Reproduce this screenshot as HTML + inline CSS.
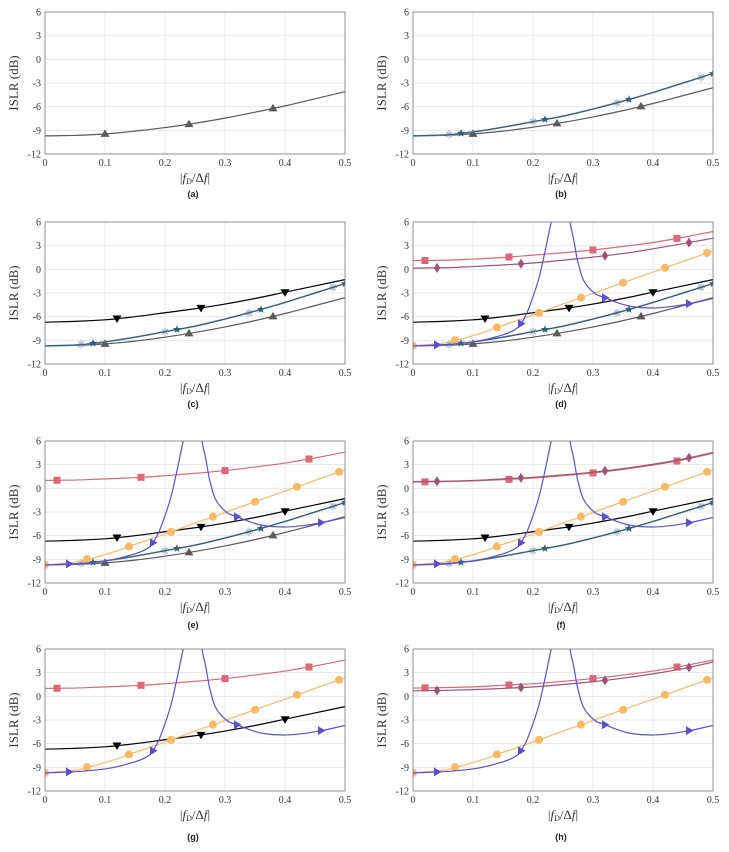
<!DOCTYPE html>
<html><head><meta charset="utf-8"><style>
html,body{margin:0;padding:0;background:#fff;}
svg{display:block;font-family:"Liberation Serif",serif;}
.cap{font-family:"Liberation Sans",sans-serif;font-weight:bold;font-size:9px;}
</style></head><body>
<svg id="fig" width="729" height="852" viewBox="0 0 729 852"></svg>
<script>
// ---- data ----
const xSamples = [0,0.05,0.1,0.15,0.2,0.25,0.3,0.35,0.4,0.45,0.5];
const grayA   = [-9.7,-9.65,-9.45,-9.1,-8.65,-8.1,-7.45,-6.7,-5.9,-5.0,-4.1];
const grayB   = [-9.7,-9.65,-9.45,-9.1,-8.6,-8.0,-7.3,-6.5,-5.6,-4.6,-3.6];
const teal    = [-9.7,-9.6,-9.2,-8.6,-7.9,-7.2,-6.3,-5.3,-4.2,-3.0,-1.8];
const black   = [-6.7,-6.6,-6.4,-6.0,-5.5,-5.0,-4.4,-3.7,-2.9,-2.1,-1.3];
const orange  = [-9.7,-9.35,-8.4,-7.1,-5.8,-4.4,-3.05,-1.7,-0.35,1.0,2.35];
const redD    = [1.1,1.15,1.3,1.5,1.8,2.1,2.45,2.9,3.4,4.05,4.8];
const mauveD  = [0.15,0.2,0.35,0.55,0.8,1.15,1.55,2.0,2.6,3.25,3.95];
const redE    = [1.0,1.05,1.2,1.35,1.6,1.9,2.25,2.7,3.2,3.85,4.6];
const redF    = [0.8,0.85,0.95,1.1,1.3,1.6,1.95,2.4,2.95,3.6,4.45];
const mauveF  = [0.85,0.9,1.0,1.2,1.4,1.7,2.05,2.5,3.05,3.7,4.55];
const redH    = [1.05,1.1,1.2,1.4,1.6,1.9,2.25,2.7,3.2,3.85,4.6];
const mauveH  = [0.7,0.75,0.85,1.0,1.2,1.5,1.85,2.3,2.85,3.5,4.35];
const purpleLX = [0,0.05,0.1,0.15,0.17,0.18,0.19,0.198,0.209,0.217,0.224,0.231,0.236];
const purpleLY = [-9.7,-9.55,-9.2,-8.3,-7.65,-6.9,-5.5,-3.9,-1.35,1.2,3.7,6.25,8.0];
const purpleRX = [0.257,0.261,0.268,0.274,0.284,0.295,0.306,0.32,0.34,0.36,0.38,0.4,0.45,0.5];
const purpleRY = [8.0,6.2,3.7,1.2,-1.35,-2.5,-3.2,-3.6,-4.2,-4.65,-4.85,-4.9,-4.5,-3.7];
const xTicks = [0,0.1,0.2,0.3,0.4,0.5];
const xTickLabels = ["0","0.1","0.2","0.3","0.4","0.5"];
const yTicks = [-12,-9,-6,-3,0,3,6];
const yTickLabels = ["-12","-9","-6","-3","0","3","6"];
const captions = ["(a)","(b)","(c)","(d)","(e)","(f)","(g)","(h)"];

const NS="http://www.w3.org/2000/svg";
const svg=document.getElementById('fig');
function mk(tag,attrs,parent){const e=document.createElementNS(NS,tag);for(const k in attrs)e.setAttribute(k,attrs[k]);(parent||svg).appendChild(e);return e;}

const lefts=[45,413], tops=[12,222,441,649], capY=[197,407,628,840];
const W=300,H=142;

const S={
 gray:{c:"#5a5a5a",m:"tri-up"}, teal:{c:"#2b5f7e",m:"star"}, ast:{c:"#9aa8b8",m:"asterisk"},
 black:{c:"#000",m:"tri-down"}, orange:{c:"#fdb863",m:"circle"}, red:{c:"#dd6677",m:"square"},
 mauve:{c:"#9c5475",m:"diamond"}, purple:{c:"#5a4fd4",m:"tri-right"}
};
const mx={gray:[0.1,0.24,0.38],teal:[0.08,0.22,0.36,0.5],ast:[0.06,0.2,0.34,0.48],black:[0.12,0.26,0.4],
 orange:[0,0.07,0.14,0.21,0.28,0.35,0.42,0.49],red:[0.02,0.16,0.3,0.44],mauve:[0.04,0.18,0.32,0.46],purple:[0.04,0.18,0.32,0.46]};

const panels=[
 [["gray",grayA]],
 [["gray",grayB],["ast",teal],["teal",teal]],
 [["gray",grayB],["ast",teal],["teal",teal],["black",black]],
 [["gray",grayB],["ast",teal],["teal",teal],["black",black],["orange",orange],["red",redD],["mauve",mauveD],["purple",null]],
 [["gray",grayB],["ast",teal],["teal",teal],["black",black],["orange",orange],["red",redE],["purple",null]],
 [["ast",teal],["teal",teal],["black",black],["orange",orange],["red",redF],["mauve",mauveF],["purple",null]],
 [["black",black],["orange",orange],["red",redE],["purple",null]],
 [["orange",orange],["red",redH],["mauve",mauveH],["purple",null]]
];

function interp(xs,ys,x){for(let i=0;i<xs.length-1;i++){if(x>=xs[i]&&x<=xs[i+1]){const t=(x-xs[i])/(xs[i+1]-xs[i]);return ys[i]+t*(ys[i+1]-ys[i]);}}return ys[ys.length-1];}
// monotone cubic (Fritsch-Carlson) in pixel space
function smooth(p){
 const n=p.length,d=[],m=[];
 for(let i=0;i<n-1;i++)d.push((p[i+1][1]-p[i][1])/(p[i+1][0]-p[i][0]));
 m[0]=d[0];m[n-1]=d[n-2];
 for(let i=1;i<n-1;i++){m[i]=(d[i-1]*d[i]<=0)?0:(2/(1/d[i-1]+1/d[i]));}
 let s="M"+p[0][0].toFixed(2)+","+p[0][1].toFixed(2);
 for(let i=0;i<n-1;i++){const h=p[i+1][0]-p[i][0];
  s+=` C${(p[i][0]+h/3).toFixed(2)},${(p[i][1]+m[i]*h/3).toFixed(2)} ${(p[i+1][0]-h/3).toFixed(2)},${(p[i+1][1]-m[i+1]*h/3).toFixed(2)} ${p[i+1][0].toFixed(2)},${p[i+1][1].toFixed(2)}`;}
 return s;}
function marker(g,type,x,y,c){
 let e;
 if(type==="circle")e=mk('circle',{cx:x,cy:y,r:4,fill:c},g);
 else if(type==="square")e=mk('rect',{x:x-3.5,y:y-3.5,width:7,height:7,fill:c},g);
 else if(type==="diamond")e=mk('polygon',{points:`${x},${y-5} ${x+3.3},${y} ${x},${y+5} ${x-3.3},${y}`,fill:c},g);
 else if(type==="tri-up")e=mk('polygon',{points:`${x},${y-4.5} ${x+4.5},${y+3} ${x-4.5},${y+3}`,fill:c},g);
 else if(type==="tri-down")e=mk('polygon',{points:`${x},${y+4.5} ${x+4.5},${y-3} ${x-4.5},${y-3}`,fill:c},g);
 else if(type==="tri-right")e=mk('polygon',{points:`${x+4.5},${y} ${x-3},${y-4.5} ${x-3},${y+4.5}`,fill:c},g);
 else if(type==="star"){let p=[];for(let k=0;k<10;k++){const r=k%2?1.8:4.3,a=-Math.PI/2+k*Math.PI/5;p.push((x+r*Math.cos(a)).toFixed(2)+","+(y+r*Math.sin(a)).toFixed(2));}e=mk('polygon',{points:p.join(" "),fill:c},g);}
 else if(type==="asterisk"){e=mk('path',{d:`M${x-4},${y}H${x+4}M${x},${y-4}V${y+4}M${x-2.8},${y-2.8}L${x+2.8},${y+2.8}M${x-2.8},${y+2.8}L${x+2.8},${y-2.8}`,stroke:c,"stroke-width":1,fill:"none"},g);}
 
 
}

panels.forEach((series,pi)=>{
 const L=lefts[pi%2],T=tops[Math.floor(pi/2)];
 const X=v=>L+v/0.5*W, Y=v=>T+(6-v)/18*H;
 const g=mk('g',{});
 mk('rect',{x:L,y:T,width:W,height:H,fill:"#fff"},g);
 const grid=mk('g',{stroke:"#e3e3e3","stroke-width":0.8},g);
 xTicks.forEach(t=>mk('line',{x1:X(t),x2:X(t),y1:T,y2:T+H},grid));
 yTicks.forEach(t=>mk('line',{x1:L,x2:L+W,y1:Y(t),y2:Y(t)},grid));
 const cid='clip'+pi;
 const cp=mk('clipPath',{id:cid},g);mk('rect',{x:L,y:T,width:W,height:H},cp);
 const plot=mk('g',{'clip-path':`url(#${cid})`,},g);
 series.forEach(([key,vals])=>{
  const st=S[key];
  const sg=mk('g',{},plot);
  if(key==="purple"){
   mk('path',{d:smooth(purpleLX.map((x,i)=>[X(x),Y(purpleLY[i])])),fill:"none",stroke:st.c,"stroke-width":1.2},sg);
   mk('path',{d:smooth(purpleRX.map((x,i)=>[X(x),Y(purpleRY[i])])),fill:"none",stroke:st.c,"stroke-width":1.2},sg);
   mx.purple.forEach(x=>{const y=x<0.25?interp(purpleLX,purpleLY,x):interp(purpleRX,purpleRY,x);marker(sg,st.m,X(x),Y(y),st.c);});
  } else {
   mk('path',{d:smooth(xSamples.map((x,i)=>[X(x),Y(vals[i])])),fill:"none",stroke:st.c,"stroke-width":key==="ast"?1.6:1.2},sg);
   mx[key].forEach(x=>marker(sg,st.m,X(x),Y(interp(xSamples,vals,x)),st.c));
  }
 });
 mk('rect',{x:L,y:T,width:W,height:H,fill:"none",stroke:"#7a7a7a","stroke-width":0.8,},g);
 const tk=mk('g',{'font-size':"10",fill:"#333","text-anchor":"middle"},g);
 xTicks.forEach((t,i)=>{const e=mk('text',{x:X(t),y:T+H+12},tk);e.textContent=xTickLabels[i];});
 const ty=mk('g',{'font-size':"10",fill:"#333","text-anchor":"end"},g);
 yTicks.forEach((t,i)=>{const e=mk('text',{x:L-4,y:Y(t)+3.5},ty);e.textContent=yTickLabels[i];});
 const xl=mk('text',{x:L+W/2,y:T+H+28,'font-size':"13","text-anchor":"middle",fill:"#333",},g);
 xl.innerHTML='|<tspan font-style="italic">f</tspan><tspan font-size="8" dy="2">D</tspan><tspan dy="-2">/Δ</tspan><tspan font-style="italic">f</tspan>|';
 const yl=mk('text',{x:0,y:0,'font-size':"13","text-anchor":"middle",fill:"#333",transform:`translate(${L-27},${T+H/2}) rotate(-90)`,},g);
 yl.textContent='ISLR (dB)';
 const cap=mk('text',{x:L+W/2-2,y:capY[Math.floor(pi/2)],'text-anchor':"middle",class:"cap",fill:"#222",},g);
 cap.textContent=captions[pi];
});
</script>
</body></html>
